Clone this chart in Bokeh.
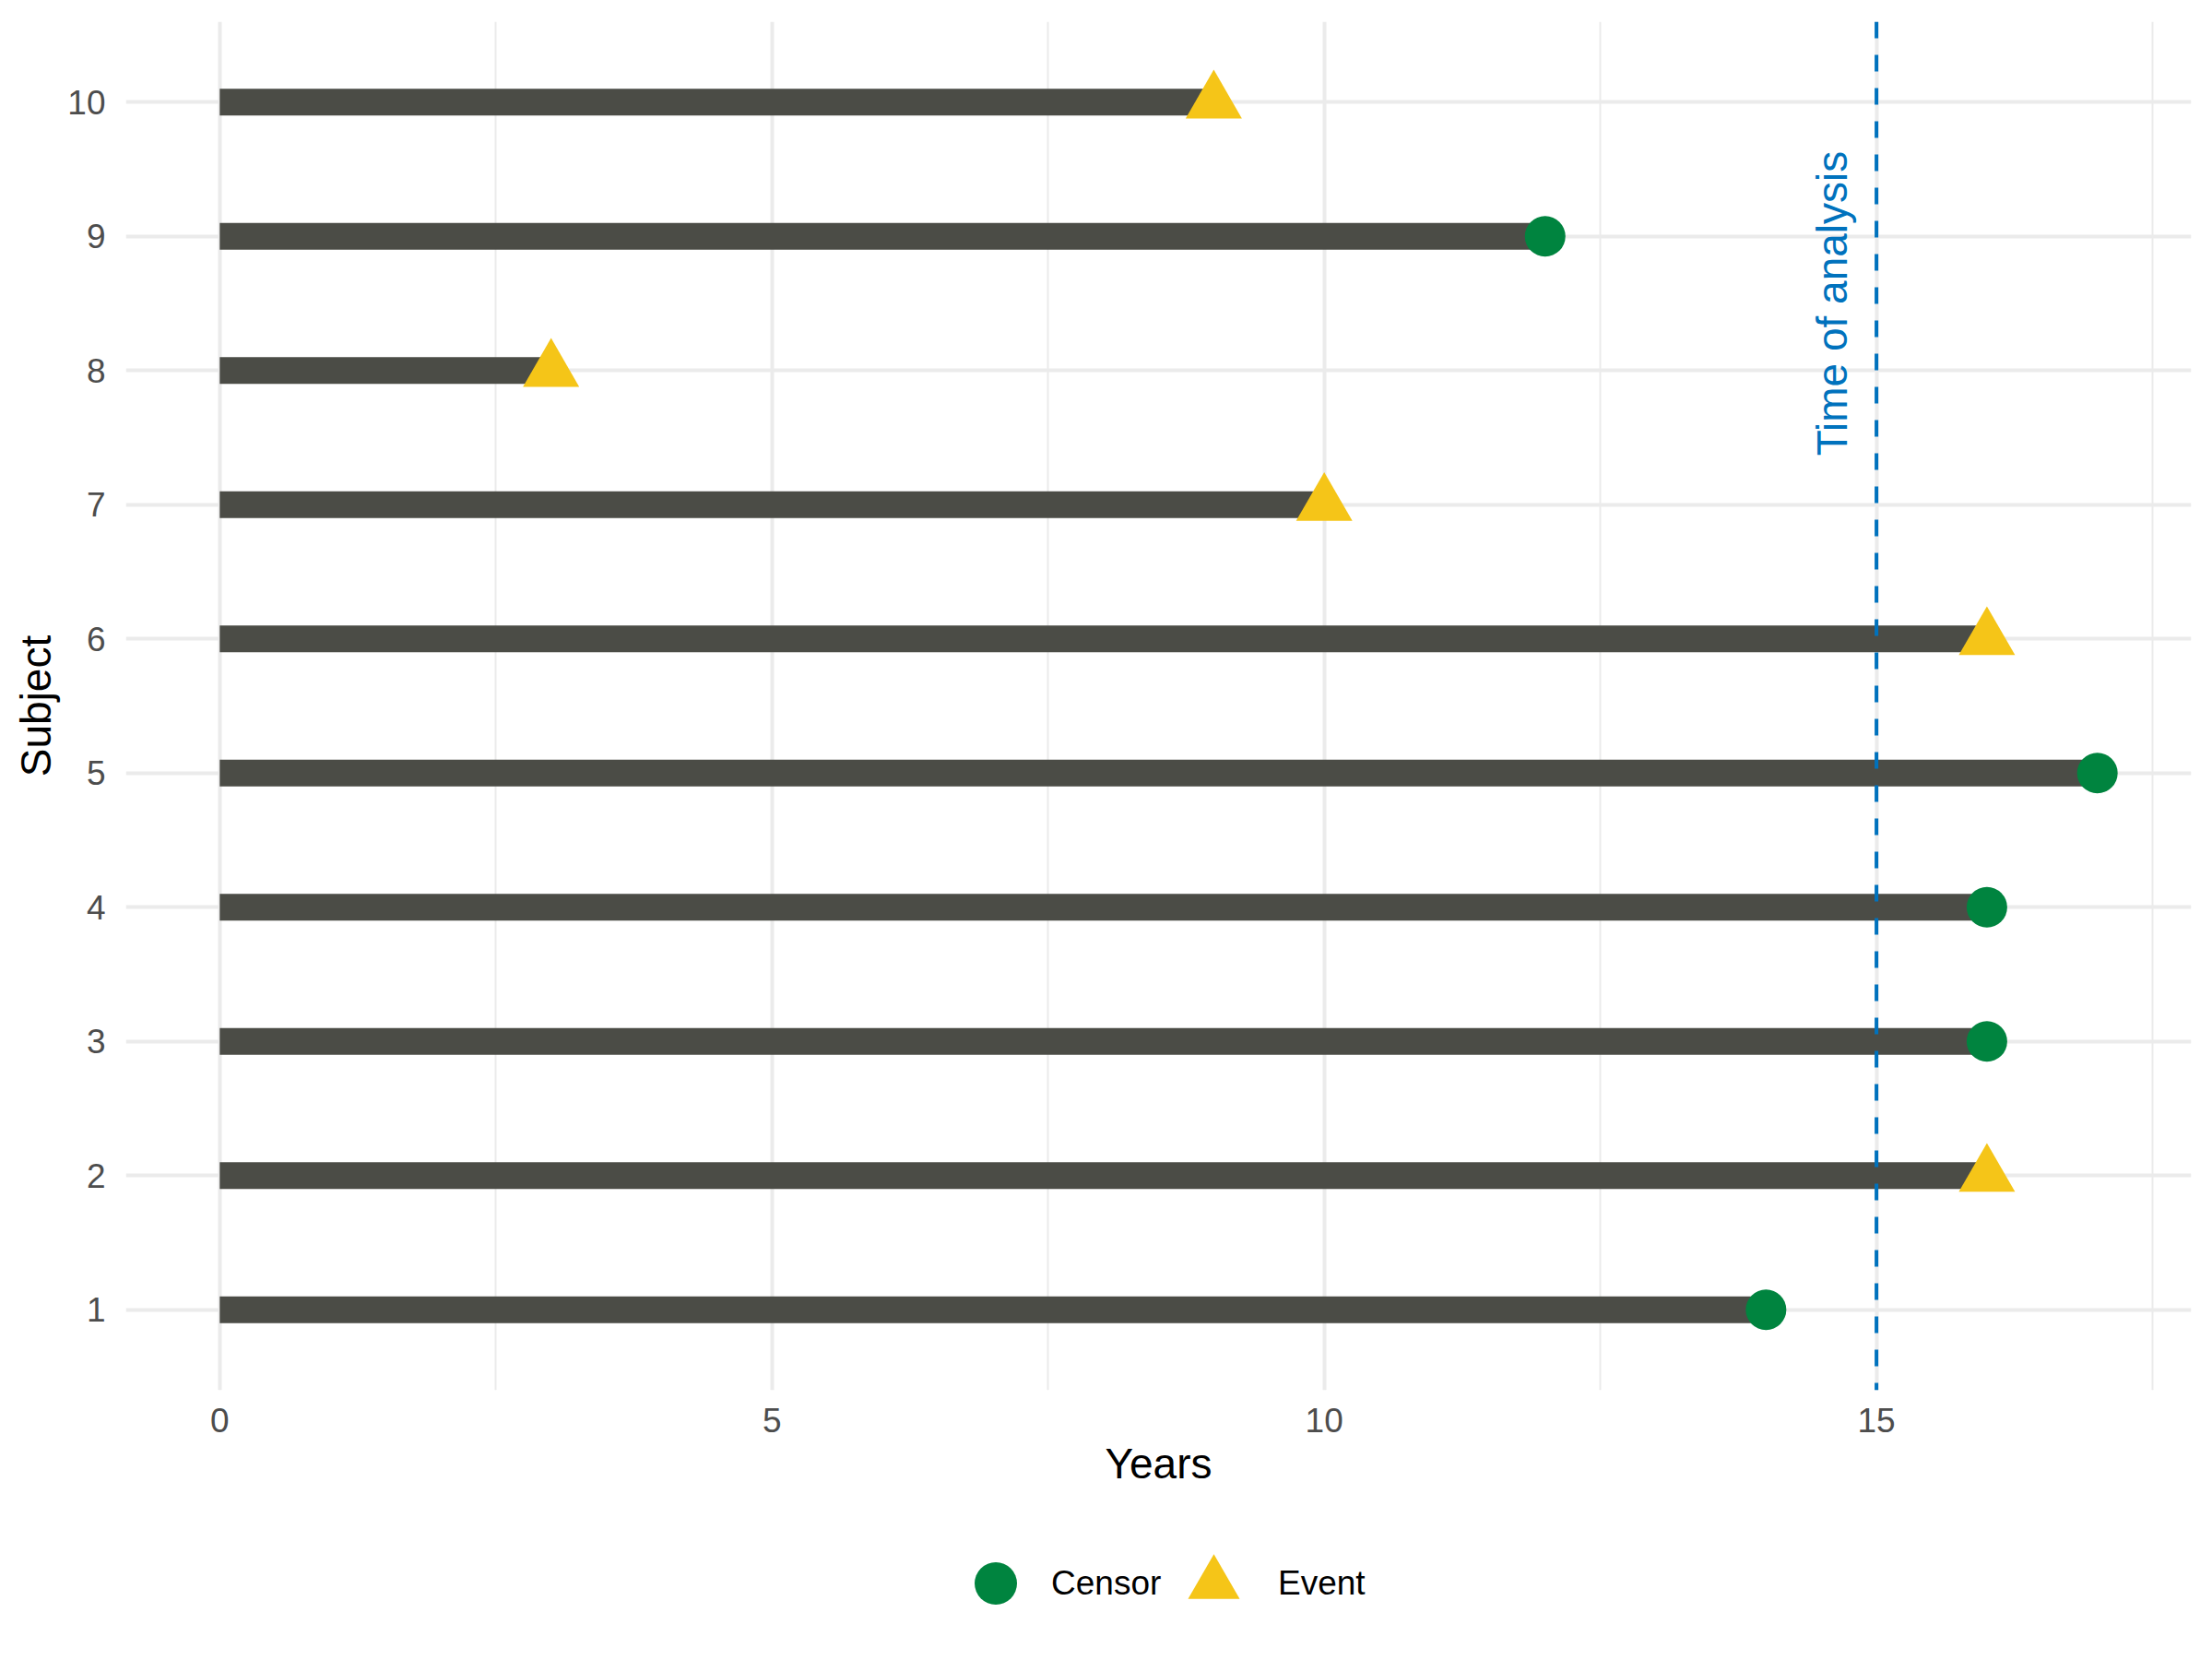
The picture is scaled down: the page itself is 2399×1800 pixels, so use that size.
import math
from bokeh.plotting import figure
from bokeh.layouts import column
from bokeh.models import (ColumnDataSource, FixedTicker, Span, Legend, LegendItem,
                          Range1d, Label)
from bokeh.embed import file_html
from bokeh.resources import INLINE

# ---- data ----
subjects = [1, 2, 3, 4, 5, 6, 7, 8, 9, 10]
years = [14, 16, 16, 16, 17, 16, 10, 3, 12, 9]
status = ["Censor", "Event", "Censor", "Censor", "Censor", "Event", "Event", "Event", "Censor", "Event"]
start = [0] * len(subjects)
analysis_time = 15
analysis_label = "Time of analysis"
analysis_label_y = 8.5
x_ticks = [0, 5, 10, 15]
x_minor_ticks = [2.5, 7.5, 12.5, 17.5]

FONT = "Liberation Sans"
BAR = "#4B4C46"
GREEN = "#00843F"
YELLOW = "#F5C518"
BLUE = "#0072BD"
GRID = "#EBEBEB"

H_MAIN = 1640
H_LEG = 1800 - H_MAIN
FRAME_LEFT = 136

p = figure(width=2399, height=H_MAIN, output_backend="svg", toolbar_location=None,
           x_range=Range1d(-0.85, 17.85), y_range=Range1d(0.4, 10.6),
           min_border_left=FRAME_LEFT, min_border_right=23, min_border_top=23,
           min_border_bottom=H_MAIN - 1507,
           x_axis_label="Years", y_axis_label="Subject")
p.outline_line_color = None
p.background_fill_color = "white"
p.border_fill_color = "white"

bars = ColumnDataSource(dict(x0=start, x1=years, y=subjects))
p.segment(x0="x0", y0="y", x1="x1", y1="y", source=bars, line_width=29,
          line_color=BAR, line_cap="butt")

cen = ColumnDataSource(dict(x=[t for t, s in zip(years, status) if s == "Censor"],
                            y=[u for u, s in zip(subjects, status) if s == "Censor"]))
evt = ColumnDataSource(dict(x=[t for t, s in zip(years, status) if s == "Event"],
                            y=[u for u, s in zip(subjects, status) if s == "Event"]))
p.scatter("x", "y", source=cen, marker="circle", size=44, fill_color=GREEN, line_color=None)
p.scatter("x", "y", source=evt, marker="triangle", size=61, fill_color=YELLOW, line_color=None)

vline = Span(location=analysis_time, dimension="height", line_color=BLUE,
             line_width=4, line_dash="18 18")
p.add_layout(vline)

lab = Label(x=analysis_time, y=analysis_label_y, x_offset=-48, text=analysis_label,
            angle=math.pi / 2, text_align="center", text_baseline="alphabetic",
            text_font_size="46px", text_color=BLUE, text_font=FONT)
p.add_layout(lab)

# axes
p.xaxis.ticker = FixedTicker(ticks=x_ticks, minor_ticks=x_minor_ticks)
p.yaxis.ticker = FixedTicker(ticks=subjects)
for ax in (p.xaxis, p.yaxis):
    ax.axis_line_color = None
    ax.major_tick_line_color = None
    ax.minor_tick_line_color = None
    ax.major_tick_out = 0
    ax.major_label_text_font = FONT
    ax.major_label_text_font_size = "37px"
    ax.major_label_text_color = "#4D4D4D"
    ax.axis_label_text_font = FONT
    ax.axis_label_text_font_size = "46px"
    ax.axis_label_text_font_style = "normal"
    ax.axis_label_text_color = "black"
    ax.axis_label_standoff = 5
p.xaxis.major_label_standoff = 15
p.yaxis.major_label_standoff = 22

p.xgrid.grid_line_color = GRID
p.xgrid.grid_line_width = 4
p.xgrid.minor_grid_line_color = GRID
p.xgrid.minor_grid_line_width = 2
p.ygrid.grid_line_color = GRID
p.ygrid.grid_line_width = 4

# ---- legend strip below the chart (its key glyphs reuse the data, kept out of view) ----
q = figure(width=2399, height=H_LEG, output_backend="svg", toolbar_location=None,
           x_range=Range1d(-2, -1), y_range=Range1d(-2, -1),
           x_axis_type=None, y_axis_type=None, min_border=0)
q.outline_line_color = None
q.grid.visible = False
q.background_fill_color = "white"
q.border_fill_color = "white"
lc = q.scatter("x", "y", source=cen, marker="circle", fill_color=GREEN, line_color=None)
le = q.scatter("x", "y", source=evt, marker="triangle", fill_color=YELLOW, line_color=None)

LEG_MID = 77
leg_common = dict(orientation="horizontal", padding=0, margin=0, spacing=0,
                  label_text_font=FONT, label_text_font_size="37px", label_text_color="black",
                  border_line_color=None, background_fill_alpha=0)
leg1 = Legend(items=[LegendItem(label="Censor", renderers=[lc])],
              location=(1022 - FRAME_LEFT, H_LEG - LEG_MID - 57), glyph_width=115,
              glyph_height=115, label_standoff=3, **leg_common)
leg2 = Legend(items=[LegendItem(label="Event", renderers=[le])],
              location=(1246 - FRAME_LEFT, H_LEG - LEG_MID - 70), glyph_width=140,
              glyph_height=140, label_standoff=-10, **leg_common)
q.add_layout(leg1, "center")
q.add_layout(leg2, "center")

open("out.html", "w").write(file_html(column(p, q, spacing=0), INLINE))
